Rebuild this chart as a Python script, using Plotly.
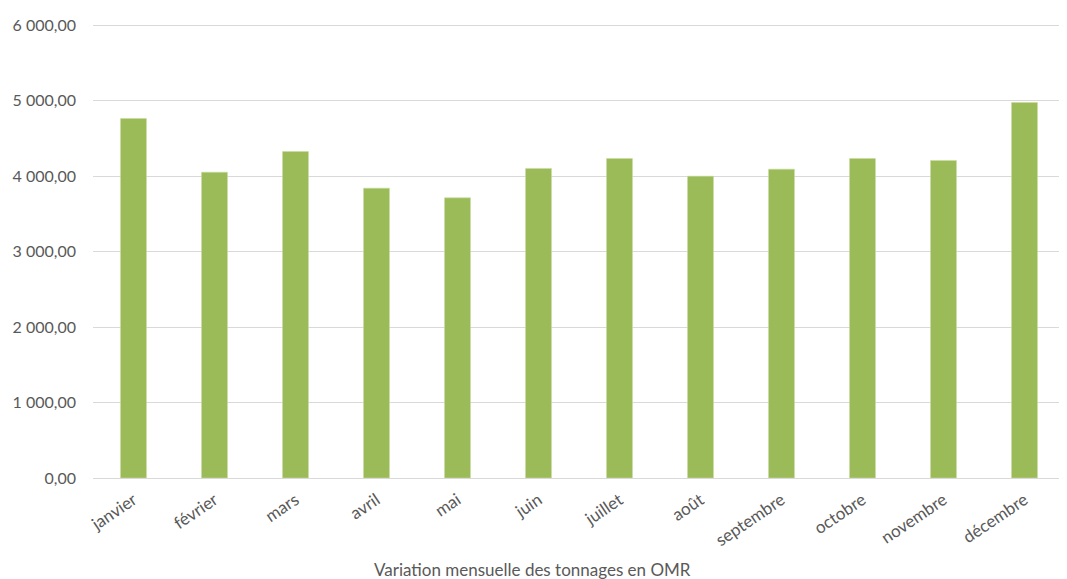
import plotly.graph_objects as go

months = ["janvier", "février", "mars", "avril", "mai", "juin", "juillet",
          "août", "septembre", "octobre", "novembre", "décembre"]
tonnages = [4765, 4053, 4327, 3841, 3713, 4102, 4234, 4000, 4093, 4234, 4208, 4976]
y_ticks = [0, 1000, 2000, 3000, 4000, 5000, 6000]
chart_title = "Variation mensuelle des tonnages en OMR"

fig = go.Figure(go.Bar(
    x=months, y=tonnages,
    marker=dict(color="#9bbb59", line=dict(color="#c8dca0", width=0.6)),
))

fig.update_layout(
    width=1059, height=571,
    margin=dict(l=85, r=2, t=15, b=101),
    plot_bgcolor="white", paper_bgcolor="white",
    separators=", ",
    bargap=0.68,
    showlegend=False,
    font=dict(family="Lato, Liberation Sans, sans-serif", size=16, color="#595959"),
    xaxis=dict(
        tickangle=-34, showgrid=False, showline=False, ticks="",
        automargin=False, ticklabelstandoff=8,
        tickfont=dict(size=17, color="#595959"),
    ),
    yaxis=dict(
        range=[0, 6030], tickvals=y_ticks, tickformat=",.2f",
        showgrid=True, gridcolor="#d9d9d9", gridwidth=1,
        zeroline=True, zerolinecolor="#d9d9d9", zerolinewidth=1,
        showline=False, ticks="", ticklabelstandoff=16, automargin=False,
        tickfont=dict(size=16, color="#595959"),
    ),
    annotations=[dict(
        text=chart_title, x=0.4517, xref="paper", y=0, yref="paper",
        yanchor="middle", xanchor="center", yshift=-91, showarrow=False,
        font=dict(size=17, color="#595959"),
    )],
)

fig.write_html("out.html")
